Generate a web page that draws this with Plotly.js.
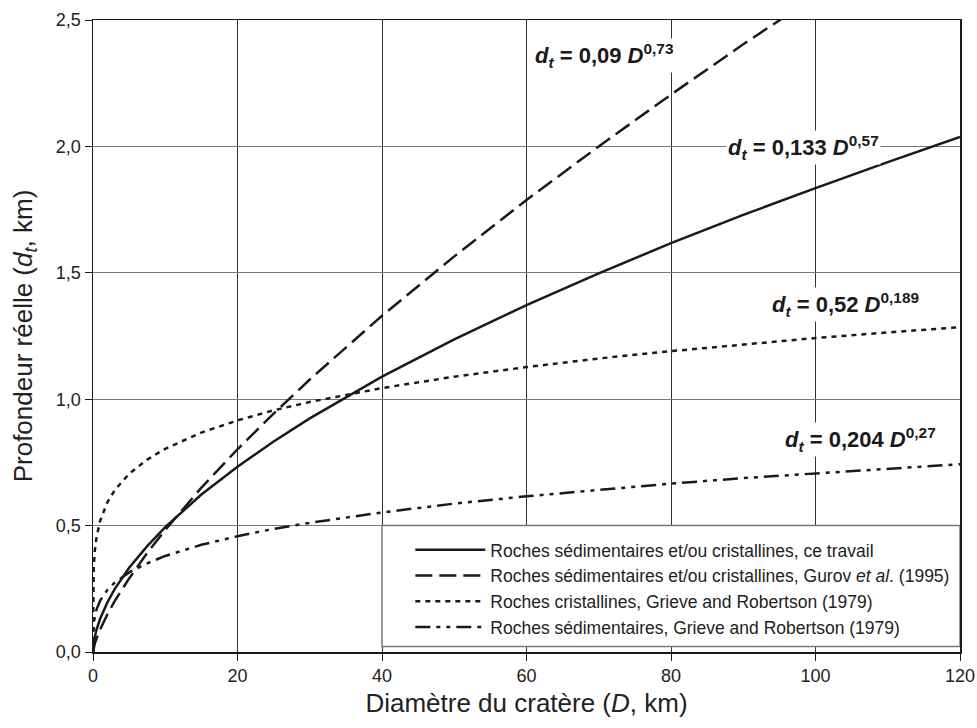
<!DOCTYPE html>
<html>
<head>
<meta charset="utf-8">
<script src="https://cdn.plot.ly/plotly-3.0.1.min.js"></script>
<style>html,body{margin:0;padding:0;background:#fff;}#chart{width:977px;height:728px;}</style>
</head>
<body>
<div id="chart"></div>
<script>
// Crater diameter D (km)
const diameter = [0, 0.05, 0.1, 0.25, 0.5, 1, 2, 3, 5, 7.5, 10, 15, 20, 25, 30, 40, 50, 60, 70, 80, 90, 100, 110, 120];
// Depth d_t (km)
const depthThisWork = [0, 0.024, 0.036, 0.060, 0.090, 0.133, 0.197, 0.249, 0.333, 0.419, 0.494, 0.623, 0.733, 0.833, 0.924, 1.089, 1.237, 1.372, 1.498, 1.617, 1.729, 1.835, 1.938, 2.037];
const depthGurov = [0, 0.010, 0.017, 0.033, 0.054, 0.090, 0.149, 0.201, 0.291, 0.392, 0.483, 0.650, 0.802, 0.943, 1.078, 1.330, 1.565, 1.788, 2.000, 2.205, 2.404, 2.596, 2.783, 2.966];
const depthCrystalline = [0, 0.295, 0.336, 0.400, 0.456, 0.520, 0.593, 0.640, 0.705, 0.761, 0.804, 0.868, 0.916, 0.956, 0.989, 1.044, 1.089, 1.127, 1.161, 1.190, 1.217, 1.242, 1.264, 1.285];
const depthSedimentary = [0, 0.091, 0.110, 0.140, 0.169, 0.204, 0.246, 0.274, 0.315, 0.351, 0.380, 0.424, 0.458, 0.487, 0.511, 0.552, 0.587, 0.616, 0.642, 0.666, 0.688, 0.707, 0.726, 0.743];

const seriesNames = [
  'Roches sédimentaires et/ou cristallines, ce travail',
  'Roches sédimentaires et/ou cristallines, Gurov <i>et al</i>. (1995)',
  'Roches cristallines, Grieve and Robertson (1979)',
  'Roches sédimentaires, Grieve and Robertson (1979)'
];
const equationLabels = [
  '<b><i>d</i><sub><i>t</i></sub> = 0,133 <i>D</i><sup>0,57</sup></b>',
  '<b><i>d</i><sub><i>t</i></sub> = 0,09 <i>D</i><sup>0,73</sup></b>',
  '<b><i>d</i><sub><i>t</i></sub> = 0,52 <i>D</i><sup>0,189</sup></b>',
  '<b><i>d</i><sub><i>t</i></sub> = 0,204 <i>D</i><sup>0,27</sup></b>'
];
const labelX = [98.4, 70.7, 104.1, 106.2];
const labelY = [1.995, 2.36, 1.375, 0.84];

const ink = '#1a1a1a';
const FONT = '"Liberation Sans", Arial, Helvetica, sans-serif';
const seriesY = [depthThisWork, depthGurov, depthCrystalline, depthSedimentary];
const dashes = ['solid', '17px,7px', '5px,5px', '15px,6px,4px,6px,4px,6px'];

const traces = seriesY.map((y, i) => ({
  x: diameter, y: y, type: 'scatter', mode: 'lines',
  name: seriesNames[i], legendgroup: 'g' + i,
  line: {color: ink, width: 2.5, dash: dashes[i]},
  hoverinfo: 'skip'
}));

const annotations = equationLabels.map((t, i) => ({
  x: labelX[i], y: labelY[i], xref: 'x', yref: 'y', text: t, showarrow: false,
  bgcolor: '#ffffff', borderpad: 1,
  font: {family: FONT, size: 22, color: ink}
}));

const layout = {
  width: 977, height: 728,
  margin: {l: 93, r: 17, t: 20, b: 76},
  paper_bgcolor: '#ffffff', plot_bgcolor: '#ffffff',
  separators: ', ',
  font: {family: FONT, color: '#222'},
  showlegend: true,
  xaxis: {
    range: [0, 120], dtick: 20, tick0: 0,
    ticks: 'outside', ticklen: 7, tickcolor: ink, tickwidth: 1,
    tickfont: {family: FONT, size: 18, color: '#222'},
    showgrid: true, gridcolor: '#333', gridwidth: 1, zeroline: false,
    showline: true, mirror: true, linecolor: ink, linewidth: 1.5,
    title: {text: 'Diamètre du cratère (<i>D</i>, km)', font: {family: FONT, size: 26, color: '#222'}, standoff: 8}
  },
  yaxis: {
    range: [0, 2.5], dtick: 0.5, tick0: 0, tickformat: '.1f',
    ticks: 'outside', ticklen: 7, tickcolor: ink, tickwidth: 1,
    tickfont: {family: FONT, size: 18, color: '#222'},
    showgrid: true, gridcolor: '#777', gridwidth: 1, zeroline: false,
    showline: true, mirror: true, linecolor: ink, linewidth: 1.5,
    title: {text: 'Profondeur réelle (<i>d</i><sub><i>t</i></sub>, km)', font: {family: FONT, size: 26, color: '#222'}, standoff: 16}
  },
  legend: {
    x: 0.366, y: 0.19, xanchor: 'left', yanchor: 'top',
    bgcolor: 'rgba(0,0,0,0)', borderwidth: 0,
    font: {family: FONT, size: 17.5, color: '#222'},
    tracegroupgap: 0, itemwidth: 70, traceorder: 'grouped'
  },
  shapes: [{
    type: 'rect', xref: 'x', yref: 'y', x0: 40, x1: 120, y0: 0.022, y1: 0.5,
    fillcolor: '#ffffff', line: {color: '#777', width: 1.5}, layer: 'above'
  }],
  annotations: annotations
};

Plotly.newPlot('chart', traces, layout, {staticPlot: true, displayModeBar: false});
</script>
</body>
</html>
